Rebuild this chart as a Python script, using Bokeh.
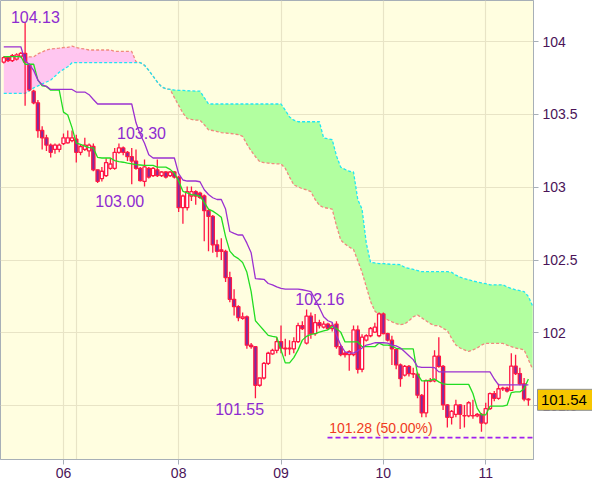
from bokeh.plotting import figure
from bokeh.models import Range1d, FixedTicker, NumeralTickFormatter, ColumnDataSource
from bokeh.embed import file_html
from bokeh.resources import INLINE
from bokeh.core.properties import value

# ---------------- data (hourly bars, index 0..123) ----------------
opens = [103.86, 103.89, 103.87, 103.88, 103.90, 103.92, 103.84, 103.66, 103.58, 103.39,
         103.34, 103.29, 103.26, 103.26, 103.30, 103.305, 103.32, 103.33, 103.24, 103.26,
         103.25, 103.28, 103.12, 103.06, 103.08, 103.13, 103.13, 103.24, 103.27, 103.24,
         103.21, 103.18, 103.13, 103.04, 103.13, 103.08, 103.12, 103.08, 103.105, 103.08,
         103.105, 103.07, 102.86, 102.86, 102.94, 102.97, 102.96, 102.94, 102.84, 102.80,
         102.605, 102.57, 102.56, 102.38, 102.23, 102.18, 102.10, 102.11, 101.915, 101.905,
         101.64, 101.69, 101.79, 101.855, 101.88, 101.94, 101.895, 101.89, 101.89, 101.94,
         102.05, 101.93, 102.115, 101.995, 102.07, 102.04, 102.06, 102.03, 102.06, 101.905,
         101.85, 101.85, 101.85, 102.02, 101.75, 101.95, 101.98, 102.005, 101.98, 102.13,
         101.995, 101.95, 101.885, 101.78, 101.71, 101.77, 101.72, 101.717, 101.57, 101.45,
         101.672, 101.67, 101.84, 101.77, 101.505, 101.42, 101.44, 101.505, 101.43, 101.43,
         101.43, 101.43, 101.44, 101.38, 101.48, 101.583, 101.55, 101.616, 101.62, 101.605,
         101.772, 101.72, 101.65, 101.545]
highs = [103.90, 103.90, 103.915, 103.92, 103.93, 104.13, 103.85, 103.67, 103.60, 103.42,
         103.36, 103.30, 103.30, 103.30, 103.37, 103.39, 103.39, 103.36, 103.29, 103.34,
         103.30, 103.30, 103.12, 103.14, 103.20, 103.20, 103.27, 103.30, 103.28, 103.25,
         103.27, 103.26, 103.14, 103.19, 103.14, 103.14, 103.19, 103.11, 103.11, 103.11,
         103.11, 103.08, 102.95, 103.005, 103.005, 102.98, 102.97, 102.95, 102.85, 102.81,
         102.64, 102.65, 102.57, 102.42, 102.30, 102.19, 102.14, 102.12, 101.93, 101.91,
         101.69, 101.80, 101.87, 101.89, 101.97, 102.05, 101.96, 101.95, 101.97, 102.07,
         102.08, 102.16, 102.14, 102.13, 102.09, 102.08, 102.07, 102.07, 102.08, 101.92,
         101.87, 101.88, 102.05, 102.05, 101.99, 101.99, 102.04, 102.07, 102.14, 102.14,
         102.00, 101.98, 101.89, 101.79, 101.78, 101.78, 101.76, 101.73, 101.58, 101.68,
         101.69, 101.88, 101.97, 101.78, 101.51, 101.47, 101.54, 101.51, 101.505, 101.53,
         101.54, 101.45, 101.45, 101.52, 101.59, 101.60, 101.65, 101.63, 101.63, 101.86,
         101.85, 101.76, 101.69, 101.55]
lows = [103.85, 103.86, 103.86, 103.87, 103.89, 103.56, 103.66, 103.57, 103.34, 103.26,
        103.25, 103.205, 103.23, 103.24, 103.29, 103.30, 103.31, 103.17, 103.22, 103.25,
        103.21, 103.11, 103.03, 103.04, 103.07, 103.12, 103.12, 103.23, 103.22, 103.18,
        103.02, 103.12, 103.04, 103.005, 103.06, 103.07, 103.07, 103.07, 103.06, 103.07,
        103.06, 102.83, 102.75, 102.84, 102.905, 102.88, 102.92, 102.63, 102.56, 102.55,
        102.52, 102.50, 102.35, 102.21, 102.12, 102.08, 102.09, 101.89, 101.89, 101.55,
        101.63, 101.68, 101.78, 101.85, 101.86, 101.86, 101.84, 101.85, 101.86, 101.93,
        102.02, 101.92, 101.96, 101.98, 102.03, 102.03, 102.02, 102.01, 101.89, 101.84,
        101.83, 101.74, 101.84, 101.72, 101.73, 101.94, 101.97, 102.00, 101.97, 101.99,
        101.94, 101.78, 101.75, 101.63, 101.70, 101.70, 101.69, 101.55, 101.42, 101.42,
        101.66, 101.66, 101.76, 101.47, 101.35, 101.37, 101.42, 101.34, 101.35, 101.42,
        101.41, 101.42, 101.32, 101.37, 101.47, 101.53, 101.54, 101.60, 101.59, 101.60,
        101.71, 101.64, 101.53, 101.50]
closes = [103.89, 103.87, 103.905, 103.91, 103.92, 103.86, 103.67, 103.58, 103.39, 103.34,
          103.29, 103.24, 103.29, 103.29, 103.34, 103.34, 103.34, 103.24, 103.28, 103.29,
          103.29, 103.12, 103.04, 103.11, 103.17, 103.16, 103.24, 103.27, 103.24, 103.21,
          103.18, 103.13, 103.045, 103.14, 103.07, 103.13, 103.08, 103.105, 103.07, 103.105,
          103.07, 102.86, 102.94, 102.97, 102.97, 102.94, 102.93, 102.84, 102.80, 102.605,
          102.56, 102.56, 102.38, 102.23, 102.18, 102.105, 102.11, 101.915, 101.905, 101.64,
          101.69, 101.79, 101.86, 101.88, 101.94, 101.895, 101.89, 101.895, 101.94, 102.05,
          102.03, 102.115, 101.995, 102.07, 102.05, 102.06, 102.03, 102.05, 101.905, 101.85,
          101.86, 101.87, 102.02, 101.75, 101.97, 101.98, 102.03, 102.04, 102.13, 101.995,
          101.95, 101.89, 101.78, 101.685, 101.77, 101.72, 101.717, 101.572, 101.45, 101.672,
          101.668, 101.84, 101.77, 101.505, 101.42, 101.46, 101.505, 101.44, 101.432, 101.52,
          101.432, 101.44, 101.38, 101.48, 101.583, 101.55, 101.616, 101.62, 101.60, 101.772,
          101.72, 101.65, 101.545, 101.54]

tenkan = [103.898, 103.898, 103.898, 103.898, 103.898, 103.845, 103.845, 103.845, 103.736, 103.696,
          103.693, 103.667, 103.667, 103.667, 103.516, 103.496, 103.410, 103.303, 103.294, 103.283,
          103.272, 103.270, 103.205, 103.201, 103.201, 103.201, 103.183, 103.176, 103.172, 103.166,
          103.161, 103.156, 103.153, 103.150, 103.150, 103.150, 103.138, 103.138, 103.138, 103.123,
          103.096, 103.043, 102.972, 102.961, 102.950, 102.946, 102.938, 102.896, 102.850, 102.836,
          102.816, 102.794, 102.661, 102.561, 102.528, 102.510, 102.483, 102.416, 102.283, 102.083,
          102.050, 102.016, 101.983, 101.976, 101.970, 101.883, 101.794, 101.794, 101.830, 101.883,
          101.950, 101.976, 101.990, 101.994, 102.005, 102.013, 102.021, 102.043, 102.030, 102.005,
          101.938, 101.938, 101.938, 101.938, 101.905, 101.905, 101.905, 101.905, 101.930, 101.916,
          101.916, 101.910, 101.894, 101.890, 101.890, 101.890, 101.890, 101.716, 101.670, 101.670,
          101.676, 101.683, 101.663, 101.650, 101.646, 101.646, 101.646, 101.646, 101.646, 101.646,
          101.583, 101.483, 101.436, 101.436, 101.496, 101.496, 101.496, 101.496, 101.503, 101.590,
          101.594, 101.594, 101.616, 101.683]
kijun = [103.965, 103.965, 103.965, 103.965, 103.965, 103.870, 103.843, 103.803, 103.736, 103.703,
         103.693, 103.672, 103.672, 103.672, 103.672, 103.672, 103.672, 103.654, 103.654, 103.654,
         103.636, 103.603, 103.572, 103.572, 103.572, 103.572, 103.572, 103.572, 103.572, 103.572,
         103.572, 103.443, 103.363, 103.303, 103.223, 103.201, 103.201, 103.201, 103.201, 103.201,
         103.201, 103.094, 103.050, 103.043, 103.043, 103.043, 103.038, 102.983, 102.950, 102.928,
         102.916, 102.916, 102.850, 102.696, 102.683, 102.672, 102.672, 102.616, 102.550, 102.372,
         102.370, 102.368, 102.339, 102.330, 102.316, 102.305, 102.301, 102.301, 102.301, 102.301,
         102.296, 102.290, 102.283, 102.230, 102.172, 102.110, 102.083, 102.072, 101.983, 101.916,
         101.870, 101.863, 101.861, 101.876, 101.896, 101.916, 101.923, 101.932, 101.932, 101.932,
         101.930, 101.916, 101.910, 101.896, 101.870, 101.843, 101.816, 101.768, 101.763, 101.763,
         101.763, 101.761, 101.732, 101.732, 101.732, 101.732, 101.732, 101.732, 101.732, 101.732,
         101.732, 101.732, 101.732, 101.732, 101.732, 101.683, 101.643, 101.643, 101.643, 101.643,
         101.643, 101.643, 101.643, 101.643]

# leading spans (index 0..124)
span_a = [103.645, 103.645, 103.645, 103.645, 103.645, 103.645, 103.663, 103.683, 103.696, 103.710,
          103.723, 103.736, 103.763, 103.790, 103.810, 103.828, 103.856, 103.856, 103.856, 103.856,
          103.856, 103.856, 103.856, 103.856, 103.856, 103.856, 103.856, 103.856, 103.856, 103.856,
          103.856, 103.856, 103.856, 103.838, 103.803, 103.763, 103.723, 103.690, 103.676, 103.672,
          103.668, 103.666, 103.665, 103.663, 103.662, 103.661, 103.661, 103.616, 103.572, 103.572,
          103.572, 103.572, 103.572, 103.572, 103.572, 103.572, 103.572, 103.572, 103.572, 103.572,
          103.572, 103.572, 103.572, 103.572, 103.572, 103.572, 103.530, 103.483, 103.461, 103.450,
          103.450, 103.450, 103.450, 103.450, 103.450, 103.338, 103.333, 103.328, 103.216, 103.138,
          103.123, 103.110, 103.105, 102.916, 102.850, 102.616, 102.483, 102.480, 102.476, 102.476,
          102.473, 102.470, 102.470, 102.468, 102.450, 102.443, 102.436, 102.428, 102.420, 102.420,
          102.420, 102.420, 102.420, 102.420, 102.420, 102.416, 102.396, 102.383, 102.372, 102.366,
          102.356, 102.350, 102.343, 102.338, 102.330, 102.330, 102.330, 102.330, 102.316, 102.305,
          102.296, 102.290, 102.283, 102.250, 102.183]
span_b = [103.896, 103.896, 103.896, 103.896, 103.896, 103.896, 103.896, 103.896, 103.916, 103.930,
          103.943, 103.950, 103.953, 103.956, 103.960, 103.961, 103.970, 103.960, 103.953, 103.950,
          103.943, 103.943, 103.943, 103.943, 103.943, 103.943, 103.933, 103.933, 103.933, 103.933,
          103.933, 103.863, 103.856, 103.838, 103.803, 103.763, 103.723, 103.690, 103.676, 103.672,
          103.616, 103.563, 103.510, 103.472, 103.466, 103.461, 103.461, 103.430, 103.394, 103.390,
          103.383, 103.376, 103.373, 103.370, 103.366, 103.361, 103.350, 103.296, 103.250, 103.210,
          103.176, 103.170, 103.166, 103.163, 103.161, 103.160, 103.130, 103.070, 103.016, 103.003,
          102.990, 102.983, 102.970, 102.916, 102.876, 102.861, 102.856, 102.850, 102.736, 102.638,
          102.610, 102.590, 102.572, 102.496, 102.416, 102.316, 102.216, 102.150, 102.123, 102.103,
          102.090, 102.076, 102.063, 102.056, 102.061, 102.083, 102.110, 102.123, 102.103, 102.083,
          102.063, 102.050, 102.050, 102.030, 102.016, 101.963, 101.916, 101.896, 101.883, 101.872,
          101.883, 101.896, 101.916, 101.928, 101.928, 101.928, 101.928, 101.928, 101.916, 101.905,
          101.896, 101.890, 101.883, 101.817, 101.750]

day_ticks = [14, 41, 65, 89, 113]
day_labels = ["06", "08", "09", "10", "11"]
extra_grid = [17]
price_ticks = [101.5, 102.0, 102.5, 103.0, 103.5, 104.0]

mark_text = ["104.13", "103.30", "103.00", "101.55", "102.16"]
mark_x = [7.4, 32.3, 27.2, 55.3, 74.1]
mark_y = [104.13, 103.33, 102.95, 101.52, 102.19]
mark_base = ["bottom", "bottom", "top", "top", "bottom"]

fib_level = 101.28
fib_text = "101.28 (50.00%)"
fib_start = 75.9
last_price = 101.54

# ---------------- figure ----------------
W, H = 592, 481
RIGHT = 59
X0, X1 = -0.77, 124.2
p = figure(width=W, height=H, x_range=Range1d(X0, X1), y_range=Range1d(101.13, 104.283),
           toolbar_location=None, output_backend="svg", y_axis_location="right",
           min_border_left=0, min_border_top=0, min_border_right=RIGHT, min_border_bottom=22,
           background_fill_color="#FFFEE0", border_fill_color="#FFFFFF",
           outline_line_color="#A7AFB7", outline_line_width=1)

n = len(opens)
idx = list(range(n))
cidx = list(range(len(span_a)))

# cloud
split_pink = 33
split_green = 39
p.varea(x=cidx[:split_pink], y1=span_a[:split_pink], y2=span_b[:split_pink],
        fill_color="#FFC6F0", fill_alpha=1.0)
p.varea(x=cidx[split_green:], y1=span_a[split_green:], y2=span_b[split_green:],
        fill_color="#B2FFA0", fill_alpha=1.0)
p.line(cidx, span_b, line_color="#F08A7E", line_width=1.3, line_dash="3 2")
p.line(cidx, span_a, line_color="#22E6F2", line_width=1.3, line_dash="3 2")

# candles
body_top = [max(o, c) for o, c in zip(opens, closes)]
body_bot = [min(o, c) for o, c in zip(opens, closes)]
fills = ["#FFFFFF" if c >= o else "#7E2CA0" for o, c in zip(opens, closes)]
src = ColumnDataSource(dict(x=idx, h=highs, l=lows, top=body_top, bot=body_bot, fill=fills))
p.segment(x0="x", y0="l", x1="x", y1="h", source=src, line_color="#FF1744", line_width=1.3)
p.vbar(x="x", width=0.74, top="top", bottom="bot", source=src, fill_color="fill",
       line_color="#FF1744", line_width=1.3)

# conversion / base lines
p.line(idx, tenkan, line_color="#22DD22", line_width=1.3)
p.line(idx, kijun, line_color="#9B30D0", line_width=1.3)

# extremes labels
for t, x, y, b in zip(mark_text, mark_x, mark_y, mark_base):
    p.text(x=[x], y=[y], text=[t], text_align="center", text_baseline=b,
           text_color="#8E2BD0", text_font_size="16px", text_font=value("Liberation Sans"))

# fib level
p.segment(x0=[fib_start], y0=[fib_level], x1=[X1 + 1], y1=[fib_level],
          line_color="#A020F0", line_width=1.6, line_dash="5 3")
p.text(x=[fib_start + 0.4], y=[fib_level + 0.008], text=[fib_text], text_align="left",
       text_baseline="bottom", text_color="#F03A1E", text_font_size="14px",
       text_font=value("Liberation Sans"))

# axes / grids
grid_col = "#E8E4C6"
p.xgrid.ticker = FixedTicker(ticks=day_ticks + extra_grid)
p.ygrid.ticker = FixedTicker(ticks=price_ticks)
p.xgrid.grid_line_color = grid_col
p.ygrid.grid_line_color = grid_col
p.xgrid.grid_line_width = 1.2
p.ygrid.grid_line_width = 1.2

p.xaxis.ticker = FixedTicker(ticks=day_ticks)
p.xaxis.major_label_overrides = {t: l for t, l in zip(day_ticks, day_labels)}
p.yaxis.ticker = FixedTicker(ticks=price_ticks)
p.yaxis.formatter = NumeralTickFormatter(format="0.[0]")
for ax in (p.xaxis, p.yaxis):
    ax.axis_line_color = "#A7AFB7"
    ax.major_tick_line_color = "#A7AFB7"
    ax.major_tick_in = 0
    ax.major_tick_out = 5
    ax.minor_tick_line_color = None
    ax.major_label_text_color = "#4A1458"
    ax.major_label_text_font = "Liberation Sans"
    ax.major_label_text_font_size = "14px"
p.yaxis.major_label_standoff = 4
p.xaxis.major_label_standoff = 3

# last price box, drawn as glyphs on the annotation level so it can sit over the axis area
px_per_unit = (W - RIGHT) / (X1 - X0)
box_w, box_h = 55, 21
p.rect(x=[X1 + (4 + box_w / 2) / px_per_unit], y=[last_price], width=box_w, height=box_h,
       width_units="screen", height_units="screen", fill_color="#F7C600",
       line_color="#8C9096", line_width=1, level="annotation")
p.text(x=[X1 + 7.5 / px_per_unit], y=[last_price], text=["%.2f" % last_price],
       text_align="left", text_baseline="middle", text_color="#000000",
       text_font_size="15px", text_font=value("Liberation Sans"), level="annotation")

open("out.html", "w").write(file_html(p, INLINE))
